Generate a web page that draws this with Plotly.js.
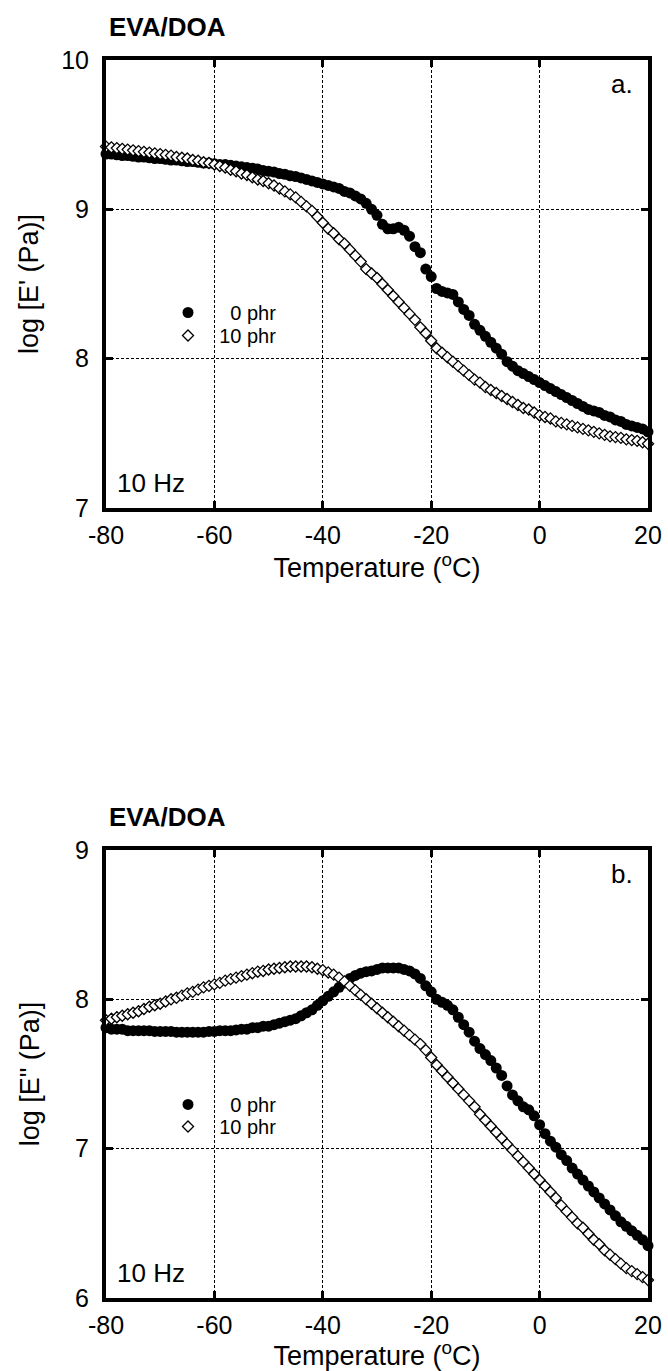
<!DOCTYPE html>
<html><head><meta charset="utf-8">
<script src="https://cdn.plot.ly/plotly-3.0.1.min.js"></script>
<style>html,body{margin:0;padding:0;background:#fff}</style>
</head><body><div id="chart" style="width:668px;height:1371px"></div>
<script>
// Temperature (°C)
const temperature = [-80,-79,-78,-77,-76,-75,-74,-73,-72,-71,-70,-69,-68,-67,-66,-65,-64,-63,-62,-61,
  -60,-59,-58,-57,-56,-55,-54,-53,-52,-51,-50,-49,-48,-47,-46,-45,-44,-43,-42,-41,
  -40,-39,-38,-37,-36,-35,-34,-33,-32,-31,-30,-29,-28,-27,-26,-25,-24,-23,-22,-21,
  -20,-19,-18,-17,-16,-15,-14,-13,-12,-11,-10,-9,-8,-7,-6,-5,-4,-3,-2,-1,
  0,1,2,3,4,5,6,7,8,9,10,11,12,13,14,15,16,17,18,19,20];

// log E' (Pa), panel a
const storage0phr = [9.37,9.37,9.365,9.36,9.36,9.355,9.35,9.35,9.345,9.34,9.34,9.335,9.33,9.33,9.325,9.32,9.32,9.315,9.31,9.31,
  9.305,9.30,9.30,9.295,9.29,9.285,9.28,9.275,9.27,9.26,9.255,9.25,9.24,9.235,9.225,9.22,9.21,9.20,9.19,9.18,
  9.17,9.16,9.15,9.14,9.12,9.11,9.09,9.07,9.04,9.00,8.96,8.90,8.87,8.87,8.88,8.86,8.82,8.75,8.71,8.60,
  8.55,8.47,8.45,8.44,8.43,8.38,8.33,8.29,8.23,8.19,8.15,8.11,8.07,8.03,7.98,7.95,7.92,7.90,7.88,7.86,
  7.84,7.82,7.80,7.78,7.76,7.74,7.72,7.70,7.68,7.66,7.65,7.64,7.62,7.61,7.59,7.58,7.56,7.55,7.54,7.53,7.51];
const storage10phr = [9.42,9.415,9.41,9.405,9.40,9.395,9.39,9.385,9.38,9.375,9.37,9.365,9.36,9.35,9.345,9.34,9.33,9.325,9.315,9.31,
  9.30,9.29,9.28,9.265,9.255,9.24,9.23,9.215,9.20,9.19,9.175,9.16,9.14,9.12,9.10,9.08,9.05,9.02,8.99,8.95,
  8.91,8.87,8.84,8.80,8.77,8.73,8.69,8.65,8.60,8.57,8.54,8.50,8.46,8.42,8.38,8.34,8.30,8.26,8.21,8.17,
  8.12,8.07,8.04,8.01,7.98,7.95,7.92,7.89,7.86,7.84,7.81,7.79,7.77,7.75,7.73,7.71,7.69,7.67,7.66,7.64,
  7.62,7.61,7.60,7.58,7.57,7.56,7.55,7.54,7.53,7.52,7.51,7.50,7.49,7.48,7.475,7.47,7.46,7.455,7.45,7.44,7.43];

// log E'' (Pa), panel b
const loss0phr = [7.81,7.80,7.80,7.80,7.79,7.79,7.79,7.79,7.79,7.785,7.785,7.785,7.785,7.78,7.78,7.78,7.78,7.78,7.78,7.785,
  7.785,7.79,7.79,7.79,7.795,7.80,7.80,7.81,7.81,7.82,7.82,7.83,7.84,7.85,7.86,7.87,7.89,7.91,7.93,7.96,
  7.99,8.02,8.05,8.08,8.11,8.14,8.16,8.175,8.185,8.19,8.20,8.21,8.21,8.21,8.21,8.20,8.19,8.17,8.14,8.09,
  8.05,8.00,7.98,7.96,7.93,7.88,7.83,7.78,7.72,7.67,7.63,7.59,7.54,7.49,7.42,7.36,7.32,7.28,7.26,7.22,
  7.16,7.10,7.05,7.01,6.96,6.92,6.87,6.83,6.79,6.75,6.71,6.67,6.63,6.59,6.55,6.51,6.48,6.45,6.42,6.39,6.35];
const loss10phr = [7.86,7.87,7.88,7.89,7.90,7.91,7.92,7.935,7.95,7.96,7.97,7.985,8.00,8.01,8.025,8.04,8.05,8.065,8.08,8.09,
  8.10,8.11,8.125,8.135,8.145,8.155,8.165,8.175,8.185,8.19,8.20,8.205,8.21,8.215,8.22,8.22,8.22,8.22,8.215,8.205,
  8.195,8.18,8.165,8.145,8.12,8.09,8.06,8.03,8.00,7.97,7.94,7.91,7.88,7.85,7.82,7.79,7.76,7.73,7.70,7.66,
  7.61,7.56,7.52,7.48,7.44,7.40,7.36,7.32,7.28,7.23,7.19,7.15,7.11,7.07,7.03,6.99,6.95,6.91,6.87,6.83,
  6.79,6.75,6.71,6.67,6.62,6.58,6.54,6.50,6.47,6.43,6.39,6.36,6.32,6.29,6.26,6.23,6.20,6.18,6.16,6.14,6.12];

const xTickVals = [-80, -60, -40, -20, 0, 20];
const xTickText = ['-80', '-60', '-40', '-20', '0', '20'];
const seriesNames = ['\u2007\u20070 phr', '\u200710 phr'];
const panelTitle = 'EVA/DOA';
const panelLabels = ['a.', 'b.'];
const freqLabel = '10 Hz';
const xTitle = 'Temperature (<sup>o</sup>C)';
const yTitles = ["log [E' (Pa)]", 'log [E" (Pa)]'];
const yRanges = [[7, 10], [6, 9]];

const FONT = 'Liberation Sans, Arial, Helvetica, sans-serif';
const dotMarker = {symbol: 'circle', size: 11, color: '#000'};
const diamondMarker = {symbol: 'diamond', size: 8.5, color: '#fff', line: {color: '#000', width: 1.3}};

const traces = [
  {x: temperature, y: storage0phr, xaxis: 'x', yaxis: 'y', legend: 'legend', name: seriesNames[0], mode: 'markers', marker: dotMarker, cliponaxis: false},
  {x: temperature, y: storage10phr, xaxis: 'x', yaxis: 'y', legend: 'legend3', name: seriesNames[1], mode: 'markers', marker: diamondMarker, cliponaxis: false},
  {x: temperature, y: loss0phr, xaxis: 'x2', yaxis: 'y2', legend: 'legend2', name: seriesNames[0], mode: 'markers', marker: dotMarker, cliponaxis: false},
  {x: temperature, y: loss10phr, xaxis: 'x2', yaxis: 'y2', legend: 'legend4', name: seriesNames[1], mode: 'markers', marker: diamondMarker, cliponaxis: false}
];

function xAxis(anchor) {
  return {
    anchor: anchor, domain: [0, 1], range: [-80, 20], tickmode: 'array', tickvals: xTickVals, ticktext: xTickText,
    ticks: 'inside', ticklen: 7, tickwidth: 3, tickcolor: '#000', ticklabelstandoff: 2,
    showline: true, linewidth: 4, linecolor: '#000', mirror: 'ticks',
    showgrid: true, gridcolor: '#000', gridwidth: 1, griddash: '3px,2px', zeroline: false,
    tickfont: {size: 25, color: '#000'},
    title: {text: xTitle, font: {size: 27, color: '#000'}, standoff: 0},
    automargin: false, fixedrange: true
  };
}
function yAxis(anchor, domain, range, title, standoff) {
  return {
    anchor: anchor, domain: domain, range: range, tickmode: 'linear', tick0: 0, dtick: 1,
    ticks: 'inside', ticklen: 7, tickwidth: 3, tickcolor: '#000', ticklabelstandoff: 8,
    showline: true, linewidth: 4, linecolor: '#000', mirror: 'ticks',
    showgrid: true, gridcolor: '#000', gridwidth: 1, griddash: '3px,2px', zeroline: false,
    tickfont: {size: 25, color: '#000'},
    title: {text: title, font: {size: 27, color: '#000'}, standoff: standoff},
    automargin: false, fixedrange: true
  };
}

function panelAnnotations(xr, yr, label) {
  return [
    {xref: xr + ' domain', yref: yr + ' domain', x: 0, y: 1, xanchor: 'left', yanchor: 'middle', xshift: 1, yshift: 33,
     text: '<b>' + panelTitle + '</b>', showarrow: false, font: {size: 26, color: '#000'}},
    {xref: xr + ' domain', yref: yr + ' domain', x: 1, y: 1, xanchor: 'right', yanchor: 'middle', xshift: -13, yshift: -24,
     text: label, showarrow: false, font: {size: 26, color: '#000'}},
    {xref: xr + ' domain', yref: yr + ' domain', x: 0, y: 0, xanchor: 'left', yanchor: 'middle', xshift: 9, yshift: 25,
     text: freqLabel, showarrow: false, font: {size: 26, color: '#000'}}
  ];
}

const legendStyle = {xanchor: 'left', yanchor: 'top', bgcolor: 'rgba(0,0,0,0)', borderwidth: 0,
  font: {size: 20, color: '#000'}, tracegroupgap: 0, itemclick: false, itemdoubleclick: false};

const layout = {
  width: 668, height: 1371,
  margin: {l: 106, r: 20, t: 60, b: 73, pad: 0},
  paper_bgcolor: '#fff', plot_bgcolor: '#fff',
  font: {family: FONT, color: '#000'},
  xaxis: xAxis('y'),
  yaxis: yAxis('x', [0.6381, 1], yRanges[0], yTitles[0], 16),
  xaxis2: xAxis('y2'),
  yaxis2: yAxis('x2', [0, 0.3619], yRanges[1], yTitles[1], 29),
  legend: Object.assign({x: 0.1144, y: 0.8118}, legendStyle),
  legend3: Object.assign({x: 0.1144, y: 0.7932}, legendStyle),
  legend2: Object.assign({x: 0.1144, y: 0.1721}, legendStyle),
  legend4: Object.assign({x: 0.1144, y: 0.1543}, legendStyle),
  annotations: panelAnnotations('x', 'y', panelLabels[0]).concat(panelAnnotations('x2', 'y2', panelLabels[1])),
  showlegend: true
};

Plotly.newPlot('chart', traces, layout, {staticPlot: true, displayModeBar: false});
</script></body></html>
